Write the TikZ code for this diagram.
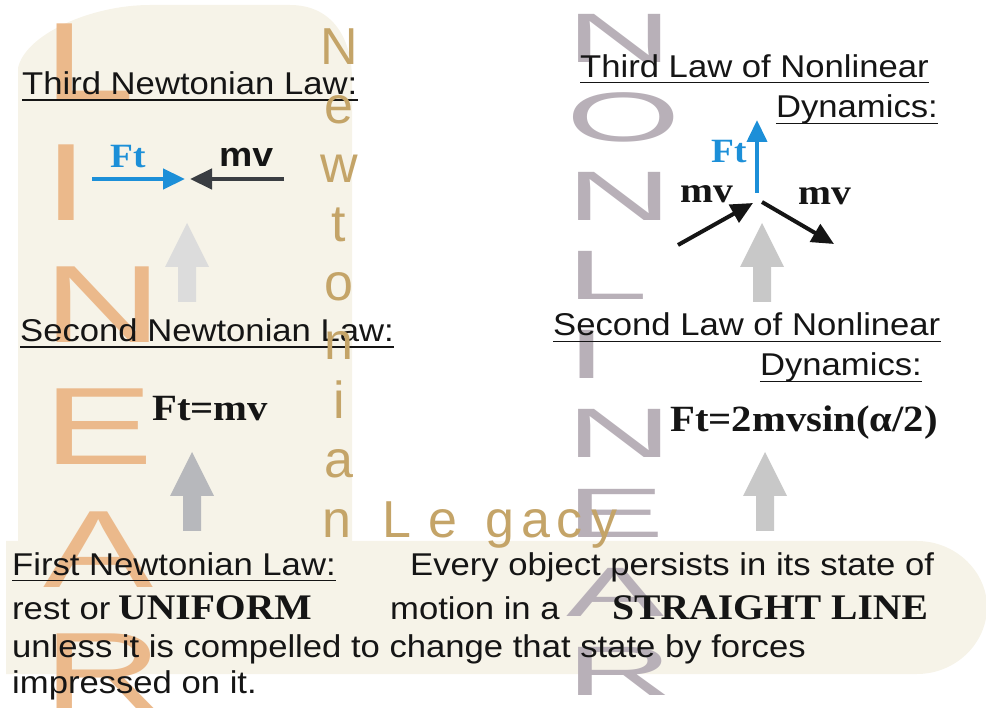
\documentclass[tikz,border=0pt]{standalone}
\usepackage{fontspec}
\setmainfont{Liberation Sans}[FakeStretch=1.1]
\newfontfamily\txtsf{Liberation Sans}[FakeStretch=1.1]
\newfontfamily\txtrm{Liberation Serif}[FakeStretch=1.1]
\newfontfamily\linfont{Liberation Sans}[FakeStretch=1.5]
\newfontfamily\nlfont{Liberation Sans}[FakeStretch=2.1]
\newfontfamily\goldfont{Liberation Sans}
\usetikzlibrary{arrows.meta}
\definecolor{cream}{HTML}{F6F3E8}
\definecolor{linorange}{HTML}{EBB98B}
\definecolor{nlgray}{HTML}{B8B0B8}
\definecolor{goldtxt}{HTML}{C4A468}
\definecolor{ftblue}{HTML}{1C8FD8}
\definecolor{darkarr}{HTML}{3A3D42}
\definecolor{txtblack}{HTML}{151515}
\definecolor{grayA}{HTML}{DCDCDC}
\definecolor{grayB}{HTML}{B7B8BC}
\definecolor{grayC}{HTML}{C8C8C8}
\begin{document}
\begin{tikzpicture}[x=1pt,y=-1pt,
  linl/.style={inner sep=0pt, anchor=base west, font=\linfont\fontsize{110}{110}\selectfont, text=linorange},
  nll/.style={inner sep=0pt, anchor=base west, font=\nlfont\fontsize{70}{70}\selectfont, text=nlgray},
  goldl/.style={inner sep=0pt, anchor=base, font=\goldfont\fontsize{52}{52}\selectfont, text=goldtxt},
  txt/.style={inner sep=0pt, anchor=base west, font=\txtsf\fontsize{31.5}{36}\selectfont, text=txtblack},
  txtr/.style={txt, anchor=base east},
  bser/.style={inner sep=0pt, anchor=base west, font=\txtrm\bfseries\fontsize{37}{40}\selectfont, text=txtblack},
  ftlab/.style={inner sep=0pt, anchor=base west, font=\txtrm\bfseries\fontsize{34}{36}\selectfont, text=ftblue},
  ulin/.style={draw=txtblack, line width=1.8pt},
  bluearr/.style={draw=ftblue, line width=4.5pt, -{Triangle[length=22pt,width=20pt]}},
  darkar/.style={draw=darkarr, line width=4.5pt, -{Triangle[length=22pt,width=20pt]}},
  blackar/.style={draw=txtblack, line width=4pt, -{Triangle[length=22pt,width=20pt]}},
  blockup/.pic={\fill[pic actions] (0,0) -- (22,44) -- (9,44) -- (9,79) -- (-9,79) -- (-9,44) -- (-22,44) -- cycle;}
]
\useasboundingbox (0,0) rectangle (986,708);
% background
\fill[cream] (18,545) -- (18,68) .. controls (25,35) and (90,5) .. (150,5) -- (290,5) .. controls (330,5) and (352,35) .. (352,80) -- (352,545) -- cycle;
\fill[cream] (6,541) -- (917,541) .. controls (956,541) and (987,572) .. (987,607) .. controls (987,643) and (956,674) .. (917,674) -- (6,674) -- cycle;
% LINEAR
\node[linl] (lin1) at (43,100) {L};
\node[linl] (lin2) at (43,221) {I};
\node[linl] (lin3) at (43,343) {N};
\node[linl] (lin4) at (43,465) {E};
\node[linl] (lin5) at (43,587) {A};
\node[linl] (lin6) at (43,709) {R};
% NONLINEAR
\node[nll] (nl1) at (566,63) {N};
\node[nll] (nl2) at (566,142) {O};
\node[nll] (nl3) at (566,221) {N};
\node[nll] (nl4) at (566,300) {L};
\node[nll] (nl5) at (566,379) {I};
\node[nll] (nl6) at (566,458) {N};
\node[nll] (nl7) at (566,537) {E};
\node[nll] (nl8) at (566,616) {A};
\node[nll] (nl9) at (566,695) {R};
% gray block arrows
\pic[fill=grayA] (upA) at (187,223) {blockup};
\pic[fill=grayB] (upB) at (192,452) {blockup};
\pic[fill=grayC] (upC) at (762,223) {blockup};
\pic[fill=grayC] (upD) at (765,452) {blockup};
% top-left: third Newtonian law
\node[txt] (t1) at (22,95) {Third Newtonian Law:};
\draw[ulin] ([yshift=-5pt]t1.base west) -- ([yshift=-5pt]t1.base east);
\node[ftlab] (ft1) at (110,168) {Ft};
\node[inner sep=0pt, anchor=base west, font=\txtsf\bfseries\fontsize{34}{36}\selectfont, text=txtblack] (mv1) at (219,167) {mv};
\coordinate (b1s) at (92,179);
\coordinate (b1e) at (185,179);
\coordinate (d1s) at (284,179);
\coordinate (d1e) at (190,179);
\draw[bluearr] (b1s) -- (b1e);
\draw[darkar] (d1s) -- (d1e);
% second Newtonian law
\node[txt] (t2) at (20,342) {Second Newtonian Law:};
\draw[ulin] ([yshift=-5pt]t2.base west) -- ([yshift=-5pt]t2.base east);
\node[bser] (f2) at (152,421) {Ft=mv};
% top-right: third law of nonlinear dynamics
\node[txt] (t3) at (580,78) {Third Law of Nonlinear};
\draw[ulin] ([yshift=-4.5pt]t3.base west) -- ([yshift=-4.5pt]t3.base east);
\node[txtr] (t3b) at (938,118) {Dynamics:};
\draw[ulin] ([yshift=-5.5pt]t3b.base west) -- ([yshift=-5.5pt]t3b.base east);
\node[ftlab] (ft3) at (711,163) {Ft};
\coordinate (b3s) at (757,193);
\coordinate (b3e) at (757,120);
\draw[bluearr, line width=4pt] (b3s) -- (b3e);
\node[inner sep=0pt, anchor=base west, font=\txtrm\bfseries\fontsize{36}{36}\selectfont, text=txtblack] (mv3a) at (680,203) {mv};
\node[inner sep=0pt, anchor=base west, font=\txtrm\bfseries\fontsize{36}{36}\selectfont, text=txtblack] (mv3b) at (798,205) {mv};
\coordinate (k1s) at (678,245);
\coordinate (k1e) at (753,203);
\coordinate (k2s) at (762,202);
\coordinate (k2e) at (834,244);
\draw[blackar] (k1s) -- (k1e);
\draw[blackar] (k2s) -- (k2e);
% second law of nonlinear dynamics
\node[txt] (t4) at (553,336) {Second Law of Nonlinear};
\draw[ulin] ([yshift=-5.5pt]t4.base west) -- ([yshift=-5.5pt]t4.base east);
\node[txtr] (t4b) at (922,376) {Dynamics:};
\draw[ulin] ([yshift=-5.5pt]t4b.base west) -- ([yshift=-5.5pt]t4b.base east);
\node[bser] (f4) at (670,432) {Ft=2mvsin(α/2)};
% bottom: first law
\node[txt] (t5) at (12,575) {First Newtonian Law:};
\draw[ulin] ([yshift=-5.5pt]t5.base west) -- ([yshift=-5.5pt]t5.base east);
\node[txt] (l1b) at (410,575) {Every object persists in its state of};
\node[txt] (l2a) at (12,619) {rest or};
\node[bser, font=\txtrm\bfseries\fontsize{36}{40}\selectfont] (l2b) at (118,619) {UNIFORM};
\node[txt] (l2c) at (390,619) {motion in a};
\node[bser, font=\txtrm\bfseries\fontsize{36}{40}\selectfont] (l2d) at (612,619) {STRAIGHT LINE};
\node[txt] (l3) at (12,657) {unless it is compelled to change that state by forces};
\node[txt] (l4) at (12,693) {impressed on it.};
% Newtonian Legacy
\node[goldl] (g1) at (339,65) {N};
\node[goldl] (g2) at (339,124) {e};
\node[goldl] (g3) at (339,183) {w};
\node[goldl] (g4) at (339,242) {t};
\node[goldl] (g5) at (339,301) {o};
\node[goldl] (g6) at (339,360) {n};
\node[goldl] (g7) at (339,419) {i};
\node[goldl] (g8) at (339,478) {a};
\node[goldl] (g9) at (337,537) {n};
\node[goldl] (g10) at (397,537) {L};
\node[goldl] (g11) at (443,537) {e};
\node[goldl] (g12) at (500,537) {g};
\node[goldl] (g13) at (536,537) {a};
\node[goldl] (g14) at (569,537) {c};
\node[goldl] (g15) at (604,537) {y};
\end{tikzpicture}
\end{document}
